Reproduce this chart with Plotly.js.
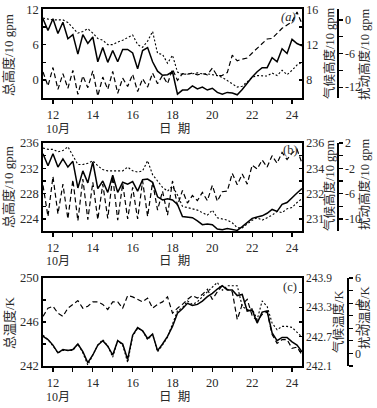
<!DOCTYPE html>
<html><head><meta charset="utf-8">
<script src="https://cdn.plot.ly/plotly-3.0.1.min.js"></script>
<style>html,body{margin:0;padding:0;background:#fff}#chart{width:377px;height:408px}</style>
</head><body><div id="chart"></div>
<script>
// sampling: every 6 h from Oct 11.5 to Oct 24.5
const startDay = 11.5, stepDay = 0.25;

// (a) heights, 10 gpm
const totalA = [10.4,8.4,10.4,7.9,9.8,7.0,7.7,4.4,7.7,6.2, 7.3,3.1,5.5,3.0,5.0,3.1,5.2,5.2,4.6,1.9, 5.0,5.5,3.1,1.5,0.8,0.9,1.4,-2.4,-1.7,-1.7, -1.0,-1.5,-1.2,-1.7,-1.4,-2.1,-2.4,-2.1,-2.2,-2.5, -1.6,-0.5,0.5,1.4,2.1,2.1,3.8,3.1,5.3,4.5, 6.9,6.2,5.8];
const climA = [15.0,14.9,14.8,14.8,14.8,14.5,13.9,13.3,13.5,13.8, 13.3,12.7,12.5,12.0,12.0,12.3,12.5,12.8,13.1,12.0, 11.7,12.4,13.5,11.0,10.9,9.9,10.8,8.9,8.6,8.7, 8.7,8.8,8.7,8.7,8.6,8.5,8.3,7.9,7.5,7.2, 7.3,7.8,8.3,8.5,8.5,8.45,8.8,8.5,9.1,8.6, 9.1,9.7,10.0];
const pertA = [-9.3,-11.8,-8.5,-12.4,-9.6,-12.2,-9.0,-13.3,-10.0,-12.1, -9.1,-13.6,-10.2,-12.4,-9.2,-13.1,-10.4,-11.9,-9.7,-12.8, -10.5,-12.0,-9.5,-11.4,-9.9,-11.4,-8.8,-10.8,-9.6,-9.7, -9.5,-9.8,-9.6,-9.8,-8.6,-10.0,-9.9,-9.4,-6.3,-7.3, -7.0,-6.8,-5.9,-5.1,-4.3,-3.4,-3.3,-2.4,-1.5,-0.9, -0.3,1.4,-0.7];

// (b) heights, 10 gpm
const totalB = [234.3,232.4,234.3,232.2,233.5,232.2,233.1,228.9,231.6,229.7, 233.0,228.8,230.0,228.2,230.9,228.2,229.8,229.5,229.9,228.4, 230.2,230.3,229.8,227.5,227.0,227.2,227.0,226.3,224.4,224.3, 224.2,223.7,223.1,223.2,223.1,222.4,222.3,222.5,222.3,222.2, 222.8,223.5,224.1,224.3,224.5,224.9,225.5,225.2,226.3,226.6, 227.4,228.1,228.8];
const climB = [235.6,235.5,235.5,235.3,235.4,235.7,235.0,234.3,234.3,234.4, 234.6,234.2,233.9,233.8,233.8,233.8,233.8,234.1,233.8,233.7, 233.8,234.6,233.5,233.0,232.5,232.2,232.6,231.9,231.0,230.9, 230.8,230.7,230.5,230.3,230.7,230.1,230.0,229.9,229.7,229.3, 229.3,229.6,229.9,230.1,229.9,230.1,230.3,230.6,230.5,230.8, 230.9,231.3,231.6];
const pertB = [-4.7,-9.6,-3.3,-9.2,-4.5,-10.0,-3.8,-10.3,-3.7,-10.1, -4.2,-10.1,-4.5,-9.9,-3.3,-10.2,-4.4,-10.0,-5.0,-10.0, -4.0,-9.6,-4.2,-8.6,-5.6,-9.4,-4.0,-7.9,-5.5,-7.5, -6.3,-7.1,-5.8,-7.1,-4.7,-7.2,-5.7,-5.6,-2.8,-4.6, -2.9,-4.5,-1.5,-2.1,-0.7,-1.8,0.0,-1.2,0.5,-0.6, 0.4,1.0,-1.2];

// (c) temperatures, K
const totalC = [244.7,244.4,243.9,243.2,243.5,243.4,243.5,244.0,243.3,242.3, 243.0,243.9,244.3,243.8,243.0,244.3,244.0,242.6,244.8,245.5, 245.2,244.5,244.9,243.4,244.0,244.7,245.6,246.8,247.2,247.7, 247.5,247.6,247.9,248.3,248.6,249.0,249.3,248.9,248.9,248.4, 248.5,247.0,247.1,245.9,246.9,247.0,245.0,244.3,244.6,244.6, 244.2,243.9,243.3];
const climC = [242.73,242.64,242.51,242.37,242.42,242.42,242.42,242.55,242.37,242.12, 242.33,242.53,242.64,242.51,242.28,242.62,242.53,242.17,242.71,242.87, 242.82,242.64,242.75,242.39,242.53,242.69,242.96,243.23,243.29,243.43, 243.36,243.41,243.52,243.61,243.70,243.81,243.65,243.74,243.74,243.74, 243.32,243.25,243.27,243.05,243.43,243.32,242.98,242.84,242.91,242.91, 242.89,242.78,242.69];
const pertC = [2.95,3.6,3.75,3.2,2.95,3.6,3.9,4.2,3.6,3.75, 4.1,4.1,3.9,3.5,4.1,4.1,3.6,4.6,4.5,4.3, 4.1,4.4,3.6,3.9,4.1,4.5,3.2,3.6,3.9,4.3, 4.6,4.4,4.7,5.1,4.3,4.9,5.4,5.1,4.9,2.7, 3.9,4.3,3.0,2.6,3.1,3.3,1.5,0.8,1.1,1.1, 0.4,0.5,-0.1];

// tick labels
const xTickVals = [12,13,14,15,16,17,18,19,20,21,22,23,24];
const xTickText = ['12','','14','','16','','18','','20','','22','','24'];
const aLeftVals = [12,9,6,3,0], aLeftText = ['12','','6','','0'];
const aR1Vals = [16,14,12,10,8], aR1Text = ['16','','12','','8'];
const aR2Vals = [0,-3,-6,-9,-12], aR2Text = ['0','','-6','','-12'];
const bLeftVals = [236,234,232,230,228,226,224], bLeftText = ['236','','232','','228','','224'];
const bR1Vals = [236,235,234,233,232,231,230], bR1Text = ['236','','234','','232','','231'];
const bR2Vals = [2,0,-2,-4,-6,-8,-10], bR2Text = ['2','','-2','','-6','','-10'];
const cLeftVals = [250,248,246,244,242], cLeftText = ['250','','246','','242'];
const cR1Vals = [243.9,243.6,243.3,243.0,242.7,242.4,242.1], cR1Text = ['243.9','','243.3','','242.7','','242.1'];
const cR2Vals = [6,5,4,3,2,1,0,-1], cR2Text = ['6','','4','','2','','0',''];

const days = totalA.map((_, i) => startDay + stepDay * i);

const W = 377, H = 408;
const px = v => v / W, py = v => 1 - v / H;
const xDom = [px(43), px(302)];
const domA = [py(98.3), py(9.3)], domB = [py(231), py(143)], domC = [py(366), py(278)];

const solid = {color:'#000', width:1.5};
const dotted = {color:'#000', width:1.1, dash:'2px,2px'};
const longd = {color:'#000', width:1.2, dash:'5px,3px'};
function tr(y, xa, ya, line){ return {x: days, y: y, xaxis: xa, yaxis: ya, type:'scatter', mode:'lines', line: line, hoverinfo:'skip'}; }

const data = [
  tr(climA,'x','y2',dotted), tr(pertA,'x','y3',longd), tr(totalA,'x','y',solid),
  tr(climB,'x2','y5',dotted), tr(pertB,'x2','y6',longd), tr(totalB,'x2','y4',solid),
  tr(climC,'x3','y8',dotted), tr(pertC,'x3','y9',longd), tr(totalC,'x3','y7',solid)
];

const TXT = '#2a2a2a';
const axBase = {showline:true, linecolor:'#000', linewidth:1.8, ticks:'outside', ticklen:4, tickwidth:1.2, tickcolor:'#000',
  showgrid:false, zeroline:false, fixedrange:true, tickfont:{size:12.5, color:TXT}, automargin:false};
function xa(anchor){ return Object.assign({}, axBase, {domain:xDom, anchor:anchor, range:[11.5,24.5], tickmode:'array', tickvals:xTickVals, ticktext:xTickText, mirror:true}); }
function ya(dom, range, vals, text, extra){ return Object.assign({}, axBase, {domain:dom, range:range, tickmode:'array', tickvals:vals, ticktext:text}, extra||{}); }
const lft = {ticks:'inside', ticklen:3};
const r1 = {ticks:'inside', ticklen:3, tickfont:{size:12, color:TXT}};
const r1c = {ticks:'inside', ticklen:3, tickfont:{size:11.5, color:TXT}};
const r2 = {linewidth:1.6, tickfont:{size:12, color:TXT}};

const layout = {
  width: W, height: H, margin:{l:0,r:0,t:0,b:0}, showlegend:false,
  paper_bgcolor:'#fff', plot_bgcolor:'#fff',
  font:{family:'"Liberation Serif", "Noto Sans CJK SC", serif', size:12.5, color:TXT},
  xaxis: xa('y'), xaxis2: xa('y4'), xaxis3: xa('y7'),
  yaxis: ya(domA, [-3.1,12], aLeftVals, aLeftText, Object.assign({anchor:'x'}, lft)),
  yaxis2: ya(domA, [5.93,16], aR1Vals, aR1Text, Object.assign({overlaying:'y', anchor:'x', side:'right'}, r1)),
  yaxis3: ya(domA, [-14,1.9], aR2Vals, aR2Text, Object.assign({overlaying:'y', anchor:'free', position:px(337), side:'right'}, r2)),
  yaxis4: ya(domB, [222.1,236], bLeftVals, bLeftText, Object.assign({anchor:'x2'}, lft)),
  yaxis5: ya(domB, [229.05,236], bR1Vals, bR1Text, Object.assign({overlaying:'y4', anchor:'x2', side:'right'}, r1)),
  yaxis6: ya(domB, [-11.9,2], bR2Vals, bR2Text, Object.assign({overlaying:'y4', anchor:'free', position:px(337), side:'right'}, r2)),
  yaxis7: ya(domC, [242,250], cLeftVals, cLeftText, Object.assign({anchor:'x3'}, lft)),
  yaxis8: ya(domC, [242.1,243.9], cR1Vals, cR1Text, Object.assign({overlaying:'y7', anchor:'x3', side:'right'}, r1c)),
  yaxis9: ya(domC, [-1,6], cR2Vals, cR2Text, Object.assign({overlaying:'y7', anchor:'free', position:px(347), side:'right'}, r2)),
  annotations: []
};

function ann(text, x, y, angle, size, extra){
  layout.annotations.push(Object.assign({text:text, x:px(x), y:py(y), xref:'paper', yref:'paper', showarrow:false,
    xanchor:'center', yanchor:'middle', textangle:angle||0, font:{size:size||12.5, color:TXT}}, extra||{}));
}
// axis titles
const TS = 13, TR = 12.5;
ann('总高度/10 gpm', 9, 55, -90, TS); ann('气候高度/10 gpm', 330, 53, -90, TR); ann('扰动高度/10 gpm', 365, 54, -90, TR);
ann('总高度/10 gpm', 9, 187, -90, TS); ann('气候高度/10 gpm', 330, 185, -90, TR); ann('扰动高度/10 gpm', 365, 184, -90, TR);
ann('总温度/K', 9, 323, -90, TS); ann('气候温度/K', 338, 322, -90, TR); ann('扰动温度/K', 364, 318, -90, TR);
// x titles
[129, 261, 397].forEach(y => { ann('10月', 58, y, 0, 12); ann('日\u2002期', 174, y, 0, 12.5); });
// panel labels
ann('<i>(a)</i>', 288, 17, 0, 12.5); ann('(b)', 290, 150, 0, 12.5); ann('(c)', 290, 287, 0, 12.5);

Plotly.newPlot('chart', data, layout, {displayModeBar:false, staticPlot:true});
</script></body></html>
